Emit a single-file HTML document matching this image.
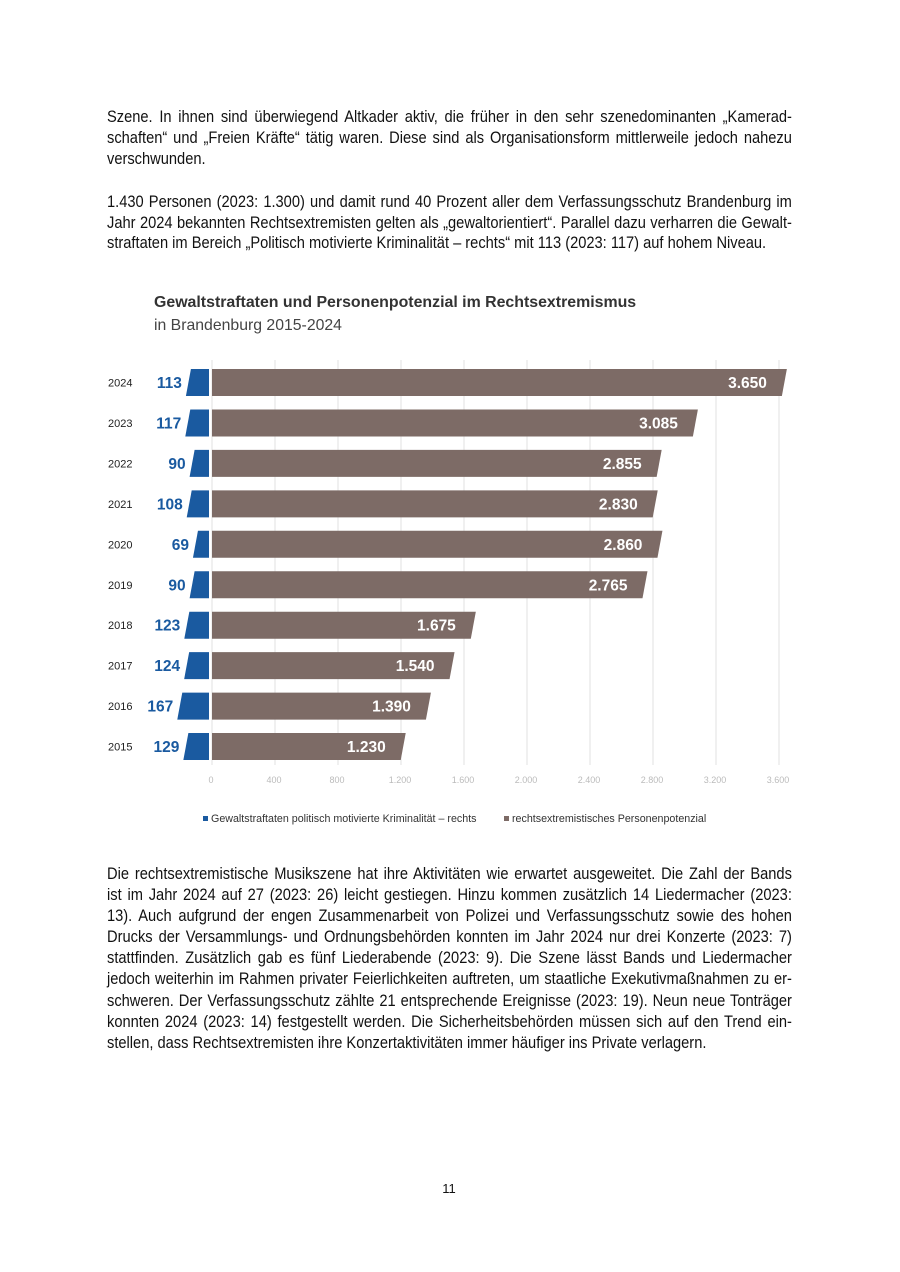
<!DOCTYPE html>
<html><head><meta charset="utf-8"><style>
body{margin:0;background:#fff;}
.pg{position:relative;width:900px;height:1272px;overflow:hidden;background:#fff;}
.l{position:absolute;left:107px;width:761px;transform:scaleX(0.9);transform-origin:0 0;font-family:"Liberation Sans",Arial,sans-serif;font-size:16.3px;line-height:20px;color:#111;text-align:justify;text-align-last:justify;white-space:nowrap;}
.l.e{text-align-last:left;}
</style></head><body><div class="pg">
<div class="l" style="top:107px">Szene. In ihnen sind überwiegend Altkader aktiv, die früher in den sehr szenedominanten „Kamerad-</div>
<div class="l" style="top:128px">schaften“ und „Freien Kräfte“ tätig waren. Diese sind als Organisationsform mittlerweile jedoch nahezu</div>
<div class="l e" style="top:149px">verschwunden.</div>
<div class="l" style="top:192px">1.430 Personen (2023: 1.300) und damit rund 40 Prozent aller dem Verfassungsschutz Brandenburg im</div>
<div class="l" style="top:213px">Jahr 2024 bekannten Rechtsextremisten gelten als „gewaltorientiert“. Parallel dazu verharren die Gewalt-</div>
<div class="l e" style="top:233px">straftaten im Bereich „Politisch motivierte Kriminalität – rechts“ mit 113 (2023: 117) auf hohem Niveau.</div>

<svg style="position:absolute;left:0;top:0" width="900" height="1272" font-family="'Liberation Sans',sans-serif">
<text x="154" y="307" font-size="15.9" font-weight="bold" fill="#333">Gewaltstraftaten und Personenpotenzial im Rechtsextremismus</text>
<text x="154" y="330" font-size="15.8" fill="#444">in Brandenburg 2015-2024</text>
<g stroke="#e2e2e2" stroke-width="1">
<line x1="212" y1="360" x2="212" y2="765"/><line x1="275" y1="360" x2="275" y2="765"/><line x1="338" y1="360" x2="338" y2="765"/><line x1="401" y1="360" x2="401" y2="765"/><line x1="464" y1="360" x2="464" y2="765"/><line x1="527" y1="360" x2="527" y2="765"/><line x1="590" y1="360" x2="590" y2="765"/><line x1="653" y1="360" x2="653" y2="765"/><line x1="716" y1="360" x2="716" y2="765"/><line x1="779" y1="360" x2="779" y2="765"/>
</g>
<g font-size="9" fill="#bbb" text-anchor="middle">
<text x="211" y="783">0</text><text x="274" y="783">400</text><text x="337" y="783">800</text><text x="400" y="783">1.200</text><text x="463" y="783">1.600</text><text x="526" y="783">2.000</text><text x="589" y="783">2.400</text><text x="652" y="783">2.800</text><text x="715" y="783">3.200</text><text x="778" y="783">3.600</text>
</g>
<g id="bars"></g>
<rect x="203" y="816" width="5" height="5" fill="#1a5aa0"/>
<text x="211" y="822" font-size="10.7" fill="#333">Gewaltstraftaten politisch motivierte Kriminalität – rechts</text>
<rect x="504" y="816" width="5" height="5" fill="#7d6b66"/>
<text x="512" y="822" font-size="10.7" fill="#333">rechtsextremistisches Personenpotenzial</text>
<text x="449" y="1193" font-size="13" fill="#111" text-anchor="middle">11</text>
</svg>

<div class="l" style="top:864px">Die rechtsextremistische Musikszene hat ihre Aktivitäten wie erwartet ausgeweitet. Die Zahl der Bands</div>
<div class="l" style="top:885px">ist im Jahr 2024 auf 27 (2023: 26) leicht gestiegen. Hinzu kommen zusätzlich 14 Liedermacher (2023:</div>
<div class="l" style="top:906px">13). Auch aufgrund der engen Zusammenarbeit von Polizei und Verfassungsschutz sowie des hohen</div>
<div class="l" style="top:927px">Drucks der Versammlungs- und Ordnungsbehörden konnten im Jahr 2024 nur drei Konzerte (2023: 7)</div>
<div class="l" style="top:948px">stattfinden. Zusätzlich gab es fünf Liederabende (2023: 9). Die Szene lässt Bands und Liedermacher</div>
<div class="l" style="top:969px">jedoch weiterhin im Rahmen privater Feierlichkeiten auftreten, um staatliche Exekutivmaßnahmen zu er-</div>
<div class="l" style="top:991px">schweren. Der Verfassungsschutz zählte 21 entsprechende Ereignisse (2023: 19). Neun neue Tonträger</div>
<div class="l" style="top:1012px">konnten 2024 (2023: 14) festgestellt werden. Die Sicherheitsbehörden müssen sich auf den Trend ein-</div>
<div class="l e" style="top:1033px">stellen, dass Rechtsextremisten ihre Konzertaktivitäten immer häufiger ins Private verlagern.</div>
</div>
<script>
var yrs=[2024,2023,2022,2021,2020,2019,2018,2017,2016,2015],
b=[113,117,90,108,69,90,123,124,167,129],
p=[3650,3085,2855,2830,2860,2765,1675,1540,1390,1230],
lab=["3.650","3.085","2.855","2.830","2.860","2.765","1.675","1.540","1.390","1.230"],s="";
for(var i=0;i<10;i++){var t=369+i*40.45,h=27,c=t+h/2;
var bl=209-b[i]*0.16;
s+='<polygon points="'+bl+','+t+' 209,'+t+' 209,'+(t+h)+' '+(bl-5)+','+(t+h)+'" fill="#1a5aa0"/>';
var e=212+p[i]*0.1575;
s+='<polygon points="212,'+t+' '+e+','+t+' '+(e-5)+','+(t+h)+' 212,'+(t+h)+'" fill="#7d6b66"/>';
s+='<text x="108" y="'+(c+4)+'" font-size="11" fill="#222">'+yrs[i]+'</text>';
s+='<text x="'+(bl-9)+'" y="'+(c+5.5)+'" font-size="15.5" font-weight="bold" fill="#1a5aa0" text-anchor="end">'+b[i]+'</text>';
s+='<text x="'+(e-20)+'" y="'+(c+5.5)+'" font-size="15.5" font-weight="bold" fill="#fff" text-anchor="end">'+lab[i]+'</text>';}
document.getElementById("bars").innerHTML=s;
</script>
</body></html>
